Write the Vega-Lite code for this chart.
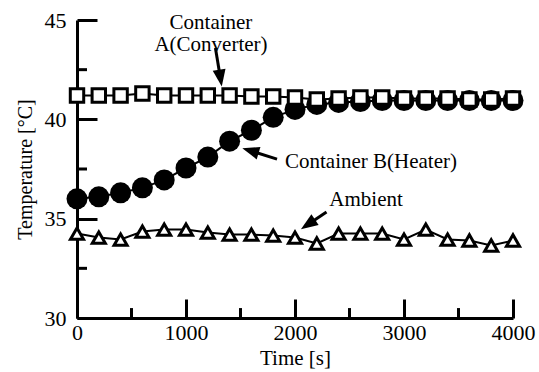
{
  "$schema": "https://vega.github.io/schema/vega-lite/v6.json",
  "width": 436,
  "height": 298,
  "autosize": {"type": "none"},
  "padding": {"left": 77, "top": 20, "right": 26, "bottom": 54},
  "background": "white",
  "config": {
    "view": {"stroke": null},
    "font": "Liberation Serif",
    "axis": {"grid": false, "domainColor": "black", "tickColor": "black", "labelColor": "black", "titleColor": "black", "labelFont": "Liberation Serif", "titleFont": "Liberation Serif", "titleFontWeight": "normal"}
  },
  "datasets": {
    "temps": [
      {"t": 0, "series": "A", "temp": 41.2}, {"t": 200, "series": "A", "temp": 41.2}, {"t": 400, "series": "A", "temp": 41.2}, {"t": 600, "series": "A", "temp": 41.3}, {"t": 800, "series": "A", "temp": 41.2}, {"t": 1000, "series": "A", "temp": 41.2}, {"t": 1200, "series": "A", "temp": 41.2}, {"t": 1400, "series": "A", "temp": 41.2}, {"t": 1600, "series": "A", "temp": 41.15}, {"t": 1800, "series": "A", "temp": 41.15}, {"t": 2000, "series": "A", "temp": 41.1}, {"t": 2200, "series": "A", "temp": 41.0}, {"t": 2400, "series": "A", "temp": 41.05}, {"t": 2600, "series": "A", "temp": 41.1}, {"t": 2800, "series": "A", "temp": 41.1}, {"t": 3000, "series": "A", "temp": 41.05}, {"t": 3200, "series": "A", "temp": 41.05}, {"t": 3400, "series": "A", "temp": 41.05}, {"t": 3600, "series": "A", "temp": 41.0}, {"t": 3800, "series": "A", "temp": 41.0}, {"t": 4000, "series": "A", "temp": 41.05},
      {"t": 0, "series": "B", "temp": 36.0}, {"t": 200, "series": "B", "temp": 36.1}, {"t": 400, "series": "B", "temp": 36.3}, {"t": 600, "series": "B", "temp": 36.55}, {"t": 800, "series": "B", "temp": 36.95}, {"t": 1000, "series": "B", "temp": 37.55}, {"t": 1200, "series": "B", "temp": 38.1}, {"t": 1400, "series": "B", "temp": 38.9}, {"t": 1600, "series": "B", "temp": 39.45}, {"t": 1800, "series": "B", "temp": 40.1}, {"t": 2000, "series": "B", "temp": 40.5}, {"t": 2200, "series": "B", "temp": 40.75}, {"t": 2400, "series": "B", "temp": 40.85}, {"t": 2600, "series": "B", "temp": 40.9}, {"t": 2800, "series": "B", "temp": 40.95}, {"t": 3000, "series": "B", "temp": 40.95}, {"t": 3200, "series": "B", "temp": 40.95}, {"t": 3400, "series": "B", "temp": 40.95}, {"t": 3600, "series": "B", "temp": 40.95}, {"t": 3800, "series": "B", "temp": 40.95}, {"t": 4000, "series": "B", "temp": 40.95},
      {"t": 0, "series": "Ambient", "temp": 34.25}, {"t": 200, "series": "Ambient", "temp": 34.05}, {"t": 400, "series": "Ambient", "temp": 33.95}, {"t": 600, "series": "Ambient", "temp": 34.35}, {"t": 800, "series": "Ambient", "temp": 34.45}, {"t": 1000, "series": "Ambient", "temp": 34.45}, {"t": 1200, "series": "Ambient", "temp": 34.3}, {"t": 1400, "series": "Ambient", "temp": 34.2}, {"t": 1600, "series": "Ambient", "temp": 34.2}, {"t": 1800, "series": "Ambient", "temp": 34.15}, {"t": 2000, "series": "Ambient", "temp": 34.05}, {"t": 2200, "series": "Ambient", "temp": 33.75}, {"t": 2400, "series": "Ambient", "temp": 34.25}, {"t": 2600, "series": "Ambient", "temp": 34.25}, {"t": 2800, "series": "Ambient", "temp": 34.25}, {"t": 3000, "series": "Ambient", "temp": 33.95}, {"t": 3200, "series": "Ambient", "temp": 34.45}, {"t": 3400, "series": "Ambient", "temp": 33.95}, {"t": 3600, "series": "Ambient", "temp": 33.9}, {"t": 3800, "series": "Ambient", "temp": 33.65}, {"t": 4000, "series": "Ambient", "temp": 33.9}
    ],
    "minorTicks": [
      {"t1": 500, "t2": 500, "y1": 30, "y2": 30.5},
      {"t1": 1500, "t2": 1500, "y1": 30, "y2": 30.5},
      {"t1": 2500, "t2": 2500, "y1": 30, "y2": 30.5},
      {"t1": 3500, "t2": 3500, "y1": 30, "y2": 30.5},
      {"t1": 0, "t2": 92, "y1": 32.5, "y2": 32.5},
      {"t1": 0, "t2": 92, "y1": 37.5, "y2": 37.5},
      {"t1": 0, "t2": 92, "y1": 42.5, "y2": 42.5}
    ],
    "labels": [
      {"t": 1229, "temp": 44.55, "label": "Container", "anchor": "center"},
      {"t": 1229, "temp": 43.45, "label": "A(Converter)", "anchor": "center"},
      {"t": 1908, "temp": 37.55, "label": "Container B(Heater)", "anchor": "left"},
      {"t": 2315, "temp": 35.64, "label": "Ambient", "anchor": "left"}
    ],
    "arrows": [
      {"arrow": "A", "part": "tail", "t": 1270, "temp": 43.59},
      {"arrow": "A", "part": "head", "t": 1316, "temp": 42.07},
      {"arrow": "B", "part": "tail", "t": 1835, "temp": 38.0},
      {"arrow": "B", "part": "head", "t": 1591, "temp": 38.42},
      {"arrow": "Ambient", "part": "tail", "t": 2289, "temp": 35.34},
      {"arrow": "Ambient", "part": "head", "t": 2119, "temp": 34.71}
    ]
  },
  "layer": [
    {
      "data": {"name": "temps"},
      "mark": {"type": "line", "color": "black", "strokeWidth": 2},
      "encoding": {
        "x": {"field": "t", "type": "quantitative", "scale": {"domain": [0, 4000], "nice": false, "zero": false},
          "axis": {"orient": "bottom", "values": [0, 1000, 2000, 3000, 4000], "format": "d", "tickSize": -19, "tickWidth": 3, "domainWidth": 3, "labelPadding": 23, "labelFontSize": 22, "labelFlush": false, "labelOverlap": false, "title": "Time [s]", "titleFontSize": 21, "titleFontWeight": "normal", "titlePadding": 4}},
        "y": {"field": "temp", "type": "quantitative", "scale": {"domain": [30, 45], "nice": false, "zero": false},
          "axis": {"orient": "left", "values": [30, 35, 40, 45], "format": "d", "tickSize": -20, "tickWidth": 3, "domainWidth": 3, "labelPadding": 31, "labelFontSize": 22, "labelFlush": false, "labelOverlap": false, "title": "Temperature [°C]", "titleFontSize": 20, "titleFontWeight": "normal", "titlePadding": 9}},
        "detail": {"field": "series"}
      }
    },
    {
      "data": {"name": "minorTicks"},
      "mark": {"type": "rule", "color": "black", "strokeWidth": 3, "opacity": 1},
      "encoding": {
        "x": {"field": "t1", "type": "quantitative"},
        "x2": {"field": "t2"},
        "y": {"field": "y1", "type": "quantitative"},
        "y2": {"field": "y2"}
      }
    },
    {
      "data": {"name": "temps"},
      "transform": [{"filter": "datum.series === 'B'"}],
      "mark": {"type": "point", "shape": "circle", "filled": true, "color": "black", "size": 441, "opacity": 1},
      "encoding": {
        "x": {"field": "t", "type": "quantitative"},
        "y": {"field": "temp", "type": "quantitative"}
      }
    },
    {
      "data": {"name": "temps"},
      "transform": [{"filter": "datum.series === 'A'"}],
      "mark": {"type": "point", "shape": "square", "filled": true, "fill": "white", "stroke": "black", "strokeWidth": 3, "size": 180, "opacity": 1},
      "encoding": {
        "x": {"field": "t", "type": "quantitative"},
        "y": {"field": "temp", "type": "quantitative"}
      }
    },
    {
      "data": {"name": "temps"},
      "transform": [{"filter": "datum.series === 'Ambient'"}],
      "mark": {"type": "point", "shape": "triangle-up", "filled": true, "fill": "white", "stroke": "black", "strokeWidth": 3, "size": 170, "opacity": 1},
      "encoding": {
        "x": {"field": "t", "type": "quantitative"},
        "y": {"field": "temp", "type": "quantitative"}
      }
    },
    {
      "data": {"name": "labels"},
      "transform": [{"filter": "datum.anchor === 'center'"}],
      "mark": {"type": "text", "align": "center", "baseline": "alphabetic", "font": "Liberation Serif", "fontSize": 21, "color": "black"},
      "encoding": {
        "x": {"field": "t", "type": "quantitative"},
        "y": {"field": "temp", "type": "quantitative"},
        "text": {"field": "label"}
      }
    },
    {
      "data": {"name": "labels"},
      "transform": [{"filter": "datum.anchor === 'left'"}],
      "mark": {"type": "text", "align": "left", "baseline": "alphabetic", "font": "Liberation Serif", "fontSize": 21, "color": "black"},
      "encoding": {
        "x": {"field": "t", "type": "quantitative"},
        "y": {"field": "temp", "type": "quantitative"},
        "text": {"field": "label"}
      }
    },
    {
      "data": {"name": "arrows"},
      "mark": {"type": "line", "color": "black", "strokeWidth": 3},
      "encoding": {
        "x": {"field": "t", "type": "quantitative"},
        "y": {"field": "temp", "type": "quantitative"},
        "detail": {"field": "arrow"}
      }
    },
    {
      "data": {"name": "arrows"},
      "transform": [{"filter": "datum.arrow === 'A' && datum.part === 'head'"}],
      "mark": {"type": "point", "shape": "M0,-1L0.76,1L-0.76,1Z", "filled": true, "color": "black", "size": 289, "angle": 171, "opacity": 1},
      "encoding": {
        "x": {"field": "t", "type": "quantitative"},
        "y": {"field": "temp", "type": "quantitative"}
      }
    },
    {
      "data": {"name": "arrows"},
      "transform": [{"filter": "datum.arrow === 'B' && datum.part === 'head'"}],
      "mark": {"type": "point", "shape": "M0,-1L0.76,1L-0.76,1Z", "filled": true, "color": "black", "size": 289, "angle": 287, "opacity": 1},
      "encoding": {
        "x": {"field": "t", "type": "quantitative"},
        "y": {"field": "temp", "type": "quantitative"}
      }
    },
    {
      "data": {"name": "arrows"},
      "transform": [{"filter": "datum.arrow === 'Ambient' && datum.part === 'head'"}],
      "mark": {"type": "point", "shape": "M0,-1L0.76,1L-0.76,1Z", "filled": true, "color": "black", "size": 289, "angle": 236, "opacity": 1},
      "encoding": {
        "x": {"field": "t", "type": "quantitative"},
        "y": {"field": "temp", "type": "quantitative"}
      }
    }
  ]
}
